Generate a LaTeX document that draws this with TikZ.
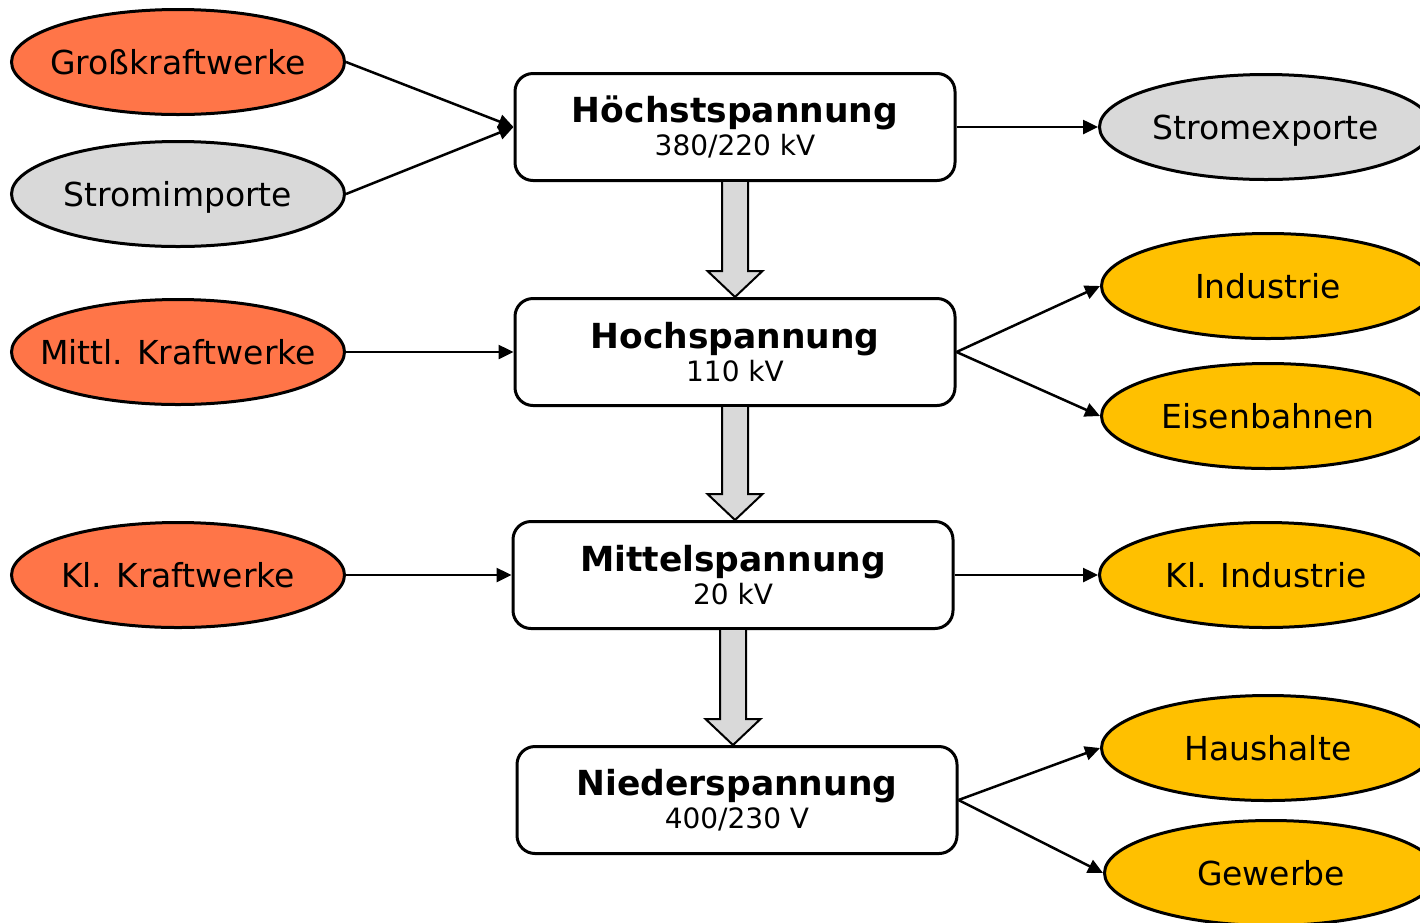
\documentclass[tikz,border=0pt]{standalone}
\usepackage{fontspec}
\setmainfont{DejaVu Sans}
\usetikzlibrary{shapes.geometric,calc,arrows.meta}
\definecolor{orng}{HTML}{FF7548}
\definecolor{gry}{HTML}{D9D9D9}
\definecolor{gold}{HTML}{FFC000}
\tikzset{
  ell/.style={ellipse,draw=black,line width=3pt,minimum width=333pt,minimum height=105pt,
    inner xsep=-60pt,inner ysep=0pt,text height=24pt,text depth=0pt,
    font=\fontsize{33}{36}\selectfont},
  ellO/.style={ell,fill=orng},
  ellG/.style={ell,fill=gry},
  ellY/.style={ell,fill=gold},
  level/.style={rectangle,rounded corners=18pt,draw=black,line width=3pt,fill=white,
    minimum width=440pt,minimum height=107pt,inner sep=0pt,align=center,
    font=\fontsize{28}{33}\selectfont},
  conn/.style={line width=2.5pt,-{Triangle[length=15pt,width=14pt]}},
  blockarrow/.style={draw=black,line width=2pt,fill=gry,line join=miter}
}
\newcommand{\ttl}[1]{{\fontsize{34.5}{33}\selectfont\bfseries #1}}
\begin{document}
\begin{tikzpicture}[x=1pt,y=-1pt]
\useasboundingbox (0,0) rectangle (1420,922);
\clip (0,0) rectangle (1420,922);
% levels
\node[level] (h1) at (735,127) {\ttl{Höchstspannung}\\380/220 kV};
\node[level] (h2) at (735,352) {\ttl{Hochspannung}\\110 kV};
\node[level] (h3) at (733,575) {\ttl{Mittelspannung}\\20 kV};
\node[level] (h4) at (737,800) {\ttl{Niederspannung}\\400/230 V};
% left ellipses
\node[ellO] (gk) at (178,62) {Großkraftwerke};
\node[ellG] (si) at (178,194) {Stromimporte};
\node[ellO] (mk) at (178,352) {Mittl. Kraftwerke};
\node[ellO] (kk) at (178,575) {Kl. Kraftwerke};
% right ellipses
\node[ellG] (se) at (1266,127) {Stromexporte};
\node[ellY] (in) at (1268,286) {Industrie};
\node[ellY] (eb) at (1268,416) {Eisenbahnen};
\node[ellY] (ki) at (1266,575) {Kl. Industrie};
\node[ellY] (hh) at (1268,748) {Haushalte};
\node[ellY] (gw) at (1271,873) {Gewerbe};
% connectors
\draw[conn] (gk.east) -- (h1.west);
\draw[conn] (si.east) -- (h1.west);
\draw[conn] (h1.east) -- (se.west);
\draw[conn] (mk.east) -- (h2.west);
\draw[conn] (h2.east) -- (in.west);
\draw[conn] (h2.east) -- (eb.west);
\draw[conn] (kk.east) -- (h3.west);
\draw[conn] (h3.east) -- (ki.west);
\draw[conn] (h4.east) -- (hh.west);
\draw[conn] (h4.east) -- (gw.west);
% block arrows
\foreach \a/\b in {h1/h2,h2/h3,h3/h4}{
  \coordinate (tip) at (\a.south |- \b.north);
  \draw[blockarrow] ($(\a.south)+(-13,0)$) -- ($(tip)+(-13,-26)$) -- ($(tip)+(-27.5,-26)$)
    -- (tip) -- ($(tip)+(27.5,-26)$) -- ($(tip)+(13,-26)$) -- ($(\a.south)+(13,0)$);
}
\end{tikzpicture}
\end{document}
